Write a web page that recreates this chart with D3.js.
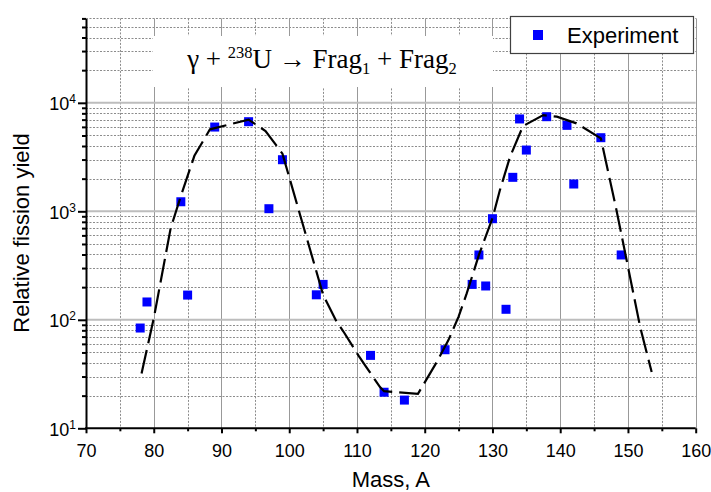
<!DOCTYPE html>
<html>
<head>
<meta charset="utf-8">
<script src="https://cdn.jsdelivr.net/npm/d3@7"></script>
<style>
  body { margin: 0; background: #fff; }
  svg { display: block; font-family: "Liberation Sans", Arial, sans-serif; }
</style>
</head>
<body>
<svg id="chart" width="711" height="492"></svg>
<script>
// measured fragment yields
const massExp = [78, 79, 84, 85, 89, 94, 97, 99, 104, 105, 112, 114, 117, 123, 127, 128, 129, 130,
    132, 133, 134, 135, 138, 141, 142, 146, 149];
const yieldExp = [84, 146, 1225, 169, 5980, 6700, 1057, 2990, 170, 212, 47, 21.5, 18.2, 53, 212, 396, 205, 855,
    125, 2057, 7100, 3670, 7450, 6200, 1785, 4770, 396];

// calculated curve (dashed)
const massCalc = [78.2, 80, 82.5, 84, 86, 88.3, 94, 96.5, 99, 105, 107, 108, 110.3, 111.2, 113.4, 114, 119,
    121.8, 123.5, 125, 126.2, 128, 130, 131.1, 132.6, 134.5, 137.5, 139.5, 142.4, 146, 148.3, 151.8, 153.5];
const yieldCalc = [32, 103, 700, 1380, 3250, 5700, 7000, 5500, 3400, 170, 96, 78, 46, 38, 24, 22, 20.8,
    41, 65, 107, 175, 396, 862, 1570, 3190, 6100, 7700, 7450, 6470, 4700, 1030, 86, 33];

const xMajor = [70, 80, 90, 100, 110, 120, 130, 140, 150, 160];
const xMinor = [75, 85, 95, 105, 115, 125, 135, 145, 155];
const yDecades = [10, 100, 1000, 10000];
const yMax = 60000;

const width = 711, height = 492;
const margin = {top: 18.4, right: 15.3, bottom: 63.7, left: 86};

const svg = d3.select("#chart");

const x = d3.scaleLinear().domain([70, 160]).range([margin.left, width - margin.right]);
const y = d3.scaleLog().domain([10, yMax]).range([height - margin.bottom, margin.top]);

let yMinor = [];
yDecades.forEach(d => {
    for (let m = 2; m <= 9; m++) if (d * m <= yMax) yMinor.push(d * m);
});

const px = v => Math.round(v) + 0.5;

// grid
const grid = svg.append("g").attr("fill", "none");
grid.selectAll(".vminor").data(xMinor).join("line")
    .attr("x1", d => px(x(d))).attr("x2", d => px(x(d)))
    .attr("y1", y(yMax)).attr("y2", y(10))
    .attr("stroke", "#8c8c8c").attr("stroke-dasharray", "2,1.5");
grid.selectAll(".hminor").data(yMinor).join("line")
    .attr("x1", x(70)).attr("x2", x(160))
    .attr("y1", d => px(y(d))).attr("y2", d => px(y(d)))
    .attr("stroke", "#8c8c8c").attr("stroke-dasharray", "2,1.5");
grid.selectAll(".vmajor").data(xMajor.slice(1)).join("line")
    .attr("x1", d => px(x(d))).attr("x2", d => px(x(d)))
    .attr("y1", y(yMax)).attr("y2", y(10))
    .attr("stroke", "#999");
grid.selectAll(".hmajor").data(yDecades.slice(1)).join("line")
    .attr("x1", x(70)).attr("x2", x(160))
    .attr("y1", d => y(d)).attr("y2", d => y(d))
    .attr("stroke", "#bdbdbd").attr("stroke-width", 2);

// title box
svg.append("rect").attr("x", 153).attr("y", 36).attr("width", 340).attr("height", 51).attr("fill", "#fff");

const title = svg.append("text")
    .attr("x", 322).attr("y", 68)
    .attr("text-anchor", "middle")
    .attr("font-family", "'Liberation Serif', 'Times New Roman', serif")
    .attr("font-size", 27)
    .style("white-space", "pre");
title.append("tspan").text("\u03b3 + ");
title.append("tspan").attr("font-size", 16.5).attr("dy", -10).text("238");
title.append("tspan").attr("dy", 10).text("U \u2192 Frag");
title.append("tspan").attr("font-size", 16.5).attr("dy", 6).text("1");
title.append("tspan").attr("dy", -6).text(" + Frag");
title.append("tspan").attr("font-size", 16.5).attr("dy", 6).text("2");

// data
svg.append("g").selectAll("rect").data(d3.zip(massExp, yieldExp)).join("rect")
    .attr("x", d => x(d[0]) - 4.5).attr("y", d => y(d[1]) - 4.5)
    .attr("width", 9).attr("height", 9)
    .attr("fill", "#0000ff");

const line = d3.line().x(d => x(d[0])).y(d => y(d[1]));
svg.append("path").datum(d3.zip(massCalc, yieldCalc))
    .attr("d", line)
    .attr("fill", "none").attr("stroke", "#000")
    .attr("stroke-width", 2.2).attr("stroke-dasharray", "24,7");

// axes
const xAxis = svg.append("g").attr("transform", `translate(0,${y(10)})`)
    .call(d3.axisBottom(x).tickValues(xMajor).tickSize(5).tickSizeOuter(0).tickPadding(11))
    .attr("font-size", 18).attr("font-family", null);
svg.append("g").attr("transform", `translate(0,${y(10)})`)
    .call(d3.axisBottom(x).tickValues(xMinor).tickSize(3).tickFormat(""))
    .call(g => g.select(".domain").remove())
    .selectAll("line").attr("stroke-width", 2);
xAxis.select(".domain").attr("stroke-width", 2).attr("d", `M${x(70) - 1},0H${x(160)}`);
xAxis.selectAll(".tick line").attr("stroke-width", 2);

const yAxis = svg.append("g").attr("transform", `translate(${x(70)},0)`)
    .call(d3.axisLeft(y).tickValues(yDecades).tickSize(8).tickSizeOuter(0).tickPadding(2))
    .attr("font-size", 18).attr("font-family", null);
svg.append("g").attr("transform", `translate(${x(70)},0)`)
    .call(d3.axisLeft(y).tickValues(yMinor).tickSize(4).tickFormat(""))
    .call(g => g.select(".domain").remove())
    .selectAll("line").attr("stroke-width", 2);
yAxis.select(".domain").attr("stroke-width", 2);
yAxis.selectAll(".tick line").attr("stroke-width", 2);
yAxis.selectAll(".tick text").each(function (d) {
    const t = d3.select(this).text("").attr("dy", null).attr("y", 7);
    t.append("tspan").text("10");
    t.append("tspan").attr("font-size", 12).attr("dy", -7).text(Math.round(Math.log10(d)));
});

// axis titles
svg.append("text")
    .attr("x", (x(70) + x(160)) / 2).attr("y", 487)
    .attr("text-anchor", "middle").attr("font-size", 22)
    .text("Mass, A");
svg.append("text")
    .attr("transform", "translate(29,233) rotate(-90)")
    .attr("text-anchor", "middle").attr("font-size", 22)
    .text("Relative fission yield");

// legend
const legend = svg.append("g");
legend.append("rect").attr("x", 510.5).attr("y", 16.5).attr("width", 183).attr("height", 37)
    .attr("fill", "#fff").attr("stroke", "#404040").attr("stroke-width", 1.2);
legend.append("rect").attr("x", 533).attr("y", 30).attr("width", 10).attr("height", 10).attr("fill", "#0000ff");
legend.append("text").attr("x", 567).attr("y", 43).attr("font-size", 22).text("Experiment");
</script>
</body>
</html>
